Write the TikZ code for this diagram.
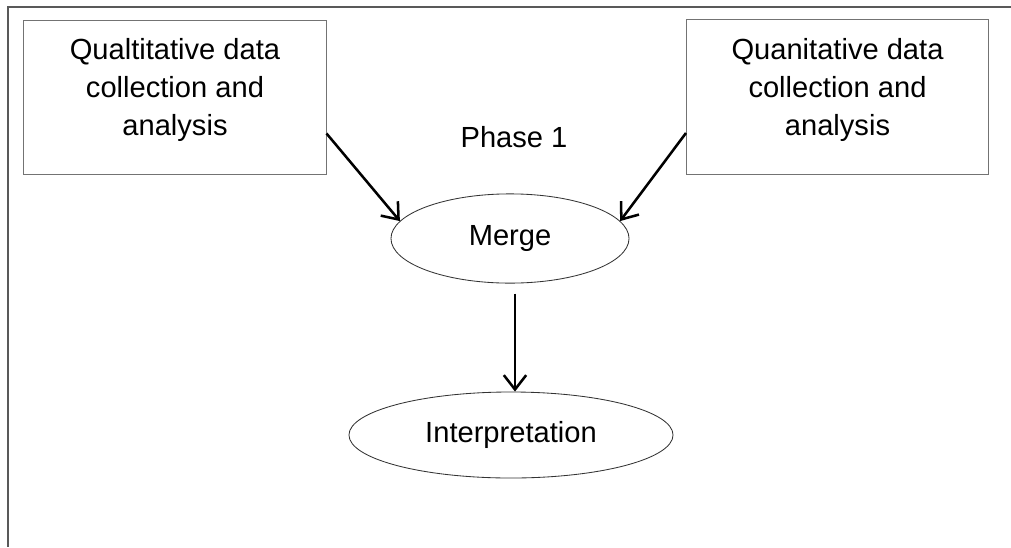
\documentclass[tikz,border=0pt]{standalone}
\usepackage{fontspec}
\setmainfont{Liberation Sans}
\usetikzlibrary{arrows.meta,shapes.geometric}

\begin{document}
\begin{tikzpicture}[x=0.025cm, y=-0.025cm,
    every node/.style={font=\fontsize{20.7}{27}\selectfont},
    databox/.style={draw=black!55, line width=0.7pt, minimum width=7.55cm, minimum height=3.85cm},
    boxtext/.style={align=center, inner sep=0pt},
    stage/.style={ellipse, draw=black!80, line width=0.6pt, inner sep=0pt},
    flow/.style={line width=1.8pt, -{Straight Barb[length=3.6mm, width=5.6mm]}}]
    \useasboundingbox (0,0) rectangle (1011,547);
    % page frame
    \draw[black!65, line width=1.4pt] (1011,7) -- (8,7) -- (8,547);

    \node[databox] (qual) at (175,97.5) {};
    \node[boxtext] (qualtext) at (175,90) {Qualtitative data\\collection and\\analysis};
    \node[databox] (quan) at (837.5,97) {};
    \node[boxtext] (quantext) at (837.5,90) {Quanitative data\\collection and\\analysis};

    \node (phase) at (514,137) {Phase 1};
    \node[stage, minimum width=5.95cm, minimum height=2.23cm] (merge) at (510,238.5) {Merge};
    \node[stage, minimum width=8.1cm, minimum height=2.15cm] (interp) at (511,435) {Interpretation};

    \draw[flow] (qual.east) ++(0,36) -- (merge.171);
    \draw[flow] (quan.west) ++(0,36) -- (merge.9);
    \draw[flow] (merge.south) ++(5,10) coordinate (mdown) -- (mdown |- interp.north);
\end{tikzpicture}
\end{document}
